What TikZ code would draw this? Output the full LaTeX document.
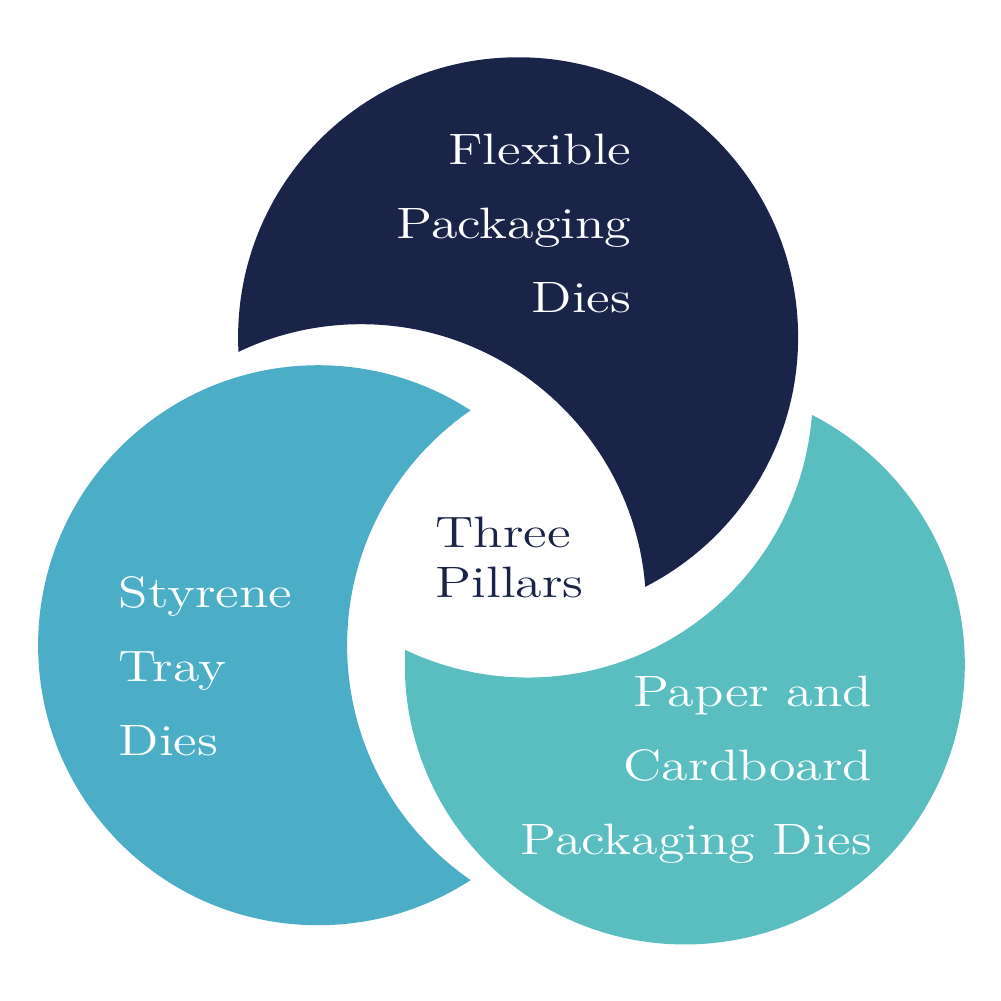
\documentclass[tikz,border=0pt]{standalone}
\usepackage{fontspec}
\setmainfont{lmroman12-regular.otf}[FakeStretch=1.23]
\usepackage{xcolor}
\usepackage{tikz}
\usetikzlibrary{positioning,calc}

\definecolor{pillarnavy}{HTML}{1A2449}
\definecolor{pillarblue}{HTML}{4BAEC6}
\definecolor{pillarteal}{HTML}{5ABEC1}

\tikzset{
    pillartext/.style={inner sep=0pt, text=white, font=\fontsize{12.5}{21}\selectfont},
    hubtext/.style={inner sep=0pt, text=pillarnavy, font=\fontsize{12.5}{14.2}\selectfont, align=left},
}

\begin{document}
\begin{tikzpicture}[x=0.01cm, y=0.01cm]
    % Canvas
    \useasboundingbox (0,0) rectangle (1001,1001);

    % Centres of the three discs and of their bites
    \coordinate (hub) at (507,452);
    \coordinate (flex) at ($(hub)+(87:212)$);
    \coordinate (styr) at ($(hub)+(207:212)$);
    \coordinate (card) at ($(hub)+(327:212)$);
    \coordinate (flexbite) at ($(flex)+(240:314)$);
    \coordinate (styrbite) at ($(styr)+(0:314)$);
    \coordinate (cardbite) at ($(card)+(120:314)$);

    % Flexible packaging
    \begin{scope}
        \clip (flex) circle (280);
        \fill[pillarnavy, even odd rule] (flex) circle (300) (flexbite) circle (285);
    \end{scope}

    % Styrene tray
    \begin{scope}
        \clip (styr) circle (280);
        \fill[pillarblue, even odd rule] (styr) circle (300) (styrbite) circle (285);
    \end{scope}

    % Paper and cardboard
    \begin{scope}
        \clip (card) circle (280);
        \fill[pillarteal, even odd rule] (card) circle (300) (cardbite) circle (285);
    \end{scope}

    % Labels
    \node[pillartext, anchor=north east, align=right] (flexlabel) at (632,867.5) {Flexible\\Packaging\\Dies};
    \node[pillartext, anchor=north west, align=left] (styrlabel) at (118,425) {Styrene\\Tray\\Dies};
    \node[pillartext, anchor=north east, align=right] (cardlabel) at (873,325.5) {Paper and\\Cardboard\\Packaging Dies};
    \node[hubtext, anchor=north west] (hublabel) at (435,484.5) {Three\\Pillars};
\end{tikzpicture}
\end{document}
